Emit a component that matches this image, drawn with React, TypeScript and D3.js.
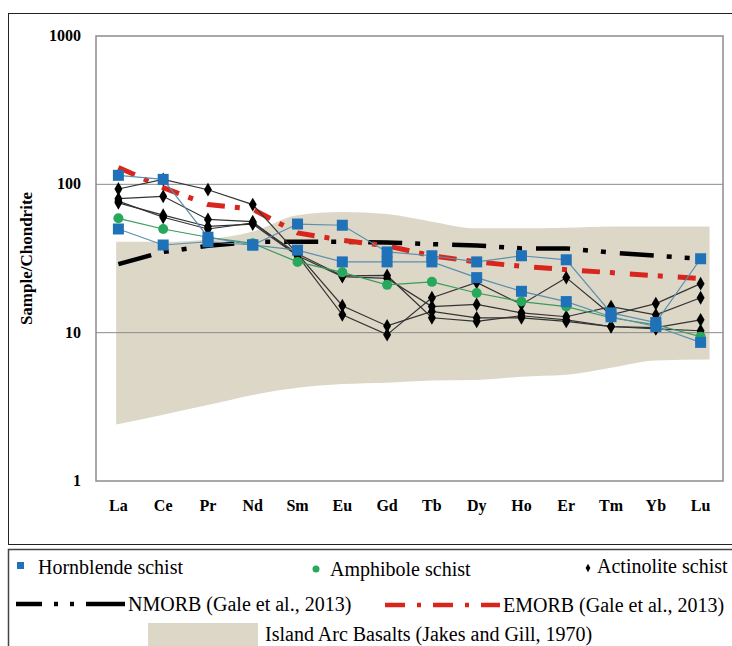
import React, { useEffect, useRef } from "react";
import * as d3 from "d3";

// REE categories and chondrite-normalised values
const elements = ["La", "Ce", "Pr", "Nd", "Sm", "Eu", "Gd", "Tb", "Dy", "Ho", "Er", "Tm", "Yb", "Lu"];
const yTicks = [1, 10, 100, 1000];

const hornblende1 = [115, 108, 44, 39, 54, 53, 35, 33, 30, 33, 31, 13.6, 11.7, 31.5];
const hornblende2 = [50, 39, 41, 39, 36, 30, 30, 30, 23.5, 19, 16.2, 12.8, 11, 8.6];
const hornblende = [hornblende1, hornblende2];

const amphibole1 = [59, 50, 44, 40, 30, 25.5, 21, 22, 18.5, 16.2, 15, 12.6, 11.3, 9.4];
const amphibole = [amphibole1];

const actinolite1 = [93, 108, 92, 73, 34, 15.2, 11.1, 13.9, 12.6, 12.6, 11.9, 11, 10.8, 12.2];
const actinolite2 = [80, 83, 58, 56, 33, 13.2, 9.7, 17.2, 21.8, 15.5, 23.5, 13.2, 15.7, 21.4];
const actinolite3 = [75, 62, 52, 54, 33, 23.9, 23.2, 15, 15.5, 13.6, 12.8, 15, 13.2, 17.2];
const actinolite4 = [77, 60, 50, 55, 34, 24.2, 24.3, 12.6, 11.9, 13, 12.2, 11, 10.6, 10.3];
const actinolite = [actinolite1, actinolite2, actinolite3, actinolite4];

const nmorb = [29, 35, 38.5, 41, 41, 41, 40.5, 39.5, 38.7, 37, 37, 34.7, 33, 31.5];
const emorb = [130, 95, 73, 68, 47, 42, 38.5, 33, 30, 28, 26.6, 25.4, 24.2, 23.2];

const arcUpper = [41, 41, 42.5, 48, 62, 65, 63, 56, 50.5, 50.5, 51, 52, 52, 52];
const arcLower = [2.4, 2.8, 3.25, 3.8, 4.25, 4.5, 4.6, 4.75, 4.8, 5.05, 5.2, 5.8, 6.5, 6.6];

const legendRows = [
  ["Hornblende schist", "Amphibole schist", "Actinolite schist"],
  ["NMORB (Gale et al., 2013)", "EMORB (Gale et al., 2013)"],
  ["Island Arc Basalts (Jakes and Gill, 1970)"],
];

const W = 732;
const H = 646;
const FONT = "'Liberation Serif', 'Times New Roman', serif";
const BLUE = "#1f72b8";
const BLUE_LINE = "#5b8fae";
const GREEN = "#27a85a";
const GREEN_LINE = "#3a9a5e";
const BLACK_LINE = "#333333";
const RED = "#d8261c";
const ARC = "#dcd7c7";

const App: React.FC = () => {
  const svgRef = useRef<SVGSVGElement>(null);

  useEffect(() => {
    document.body.style.margin = "0";
    if (!svgRef.current) return;
    const svg = d3.select(svgRef.current);
    svg.selectAll("*").remove();

    const plot = { left: 96, right: 723, top: 36, bottom: 481 };

    const x = d3.scaleBand<string>()
      .domain(elements)
      .range([plot.left, plot.right])
      .padding(0);
    const cx = (i: number) => (x(elements[i]) ?? 0) + x.bandwidth() / 2;
    const y = d3.scaleLog().domain([1, 1000]).range([plot.bottom, plot.top]);

    // outer frame and legend frame
    svg.append("rect")
      .attr("x", 8.5).attr("y", 13.5)
      .attr("width", W).attr("height", 531)
      .attr("fill", "#fff").attr("stroke", "#222").attr("stroke-width", 1);
    svg.append("rect")
      .attr("x", 8.5).attr("y", 549.5)
      .attr("width", W).attr("height", 120)
      .attr("fill", "#fff").attr("stroke", "#444").attr("stroke-width", 1.5);

    // island arc field
    const step = x.step();
    const bandPts = elements.map((_, i) => ({
      x: cx(i) + (i === 0 ? -step * 0.05 : i === elements.length - 1 ? step * 0.2 : 0),
      hi: arcUpper[i],
      lo: arcLower[i],
    }));
    const area = d3.area<{ x: number; hi: number; lo: number }>()
      .x(d => d.x)
      .y0(d => y(d.lo))
      .y1(d => y(d.hi))
      .curve(d3.curveMonotoneX);
    svg.append("path").datum(bandPts).attr("d", area).attr("fill", ARC);

    // gridlines
    svg.append("g")
      .selectAll("line")
      .data([10, 100])
      .join("line")
      .attr("x1", plot.left).attr("x2", plot.right)
      .attr("y1", d => y(d)).attr("y2", d => y(d))
      .attr("stroke", "#8a8a8a").attr("stroke-width", 1);

    // plot border
    svg.append("rect")
      .attr("x", plot.left).attr("y", plot.top)
      .attr("width", plot.right - plot.left).attr("height", plot.bottom - plot.top)
      .attr("fill", "none").attr("stroke", "#8c8c8c").attr("stroke-width", 1.5);

    const line = d3.line<number>()
      .x((_, i) => cx(i))
      .y(d => y(d));

    // reference lines
    svg.append("path").datum(nmorb).attr("d", line)
      .attr("fill", "none").attr("stroke", "#000").attr("stroke-width", 4.5)
      .attr("stroke-dasharray", "34 13 5 13 5 14");
    svg.append("path").datum(emorb).attr("d", line)
      .attr("fill", "none").attr("stroke", RED).attr("stroke-width", 5)
      .attr("stroke-dasharray", "18 10 5 15");

    const drawSeries = (
      sets: number[][],
      lineColor: string,
      marker: (g: d3.Selection<SVGGElement, unknown, null, undefined>, px: number, py: number) => void
    ) => {
      const g = svg.append("g");
      sets.forEach(vals => {
        g.append("path").datum(vals).attr("d", line)
          .attr("fill", "none").attr("stroke", lineColor).attr("stroke-width", 1.2);
      });
      sets.forEach(vals => {
        vals.forEach((v, i) => marker(g, cx(i), y(v)));
      });
    };

    const diamond = d3.symbol().type(d3.symbolDiamond).size(55);
    drawSeries(actinolite, BLACK_LINE, (g, px, py) => {
      g.append("path").attr("d", diamond).attr("transform", `translate(${px},${py})`).attr("fill", "#000");
    });
    drawSeries(amphibole, GREEN_LINE, (g, px, py) => {
      g.append("circle").attr("cx", px).attr("cy", py).attr("r", 5).attr("fill", GREEN);
    });
    drawSeries(hornblende, BLUE_LINE, (g, px, py) => {
      g.append("rect").attr("x", px - 5.5).attr("y", py - 5.5).attr("width", 11).attr("height", 11).attr("fill", BLUE);
    });

    // y tick labels
    svg.append("g")
      .selectAll("text")
      .data(yTicks)
      .join("text")
      .attr("x", 81).attr("y", d => y(d) + 5)
      .attr("text-anchor", "end")
      .style("font-family", FONT).style("font-size", "16px").style("font-weight", "bold")
      .text(d => String(d));

    // x tick labels
    svg.append("g")
      .selectAll("text")
      .data(elements)
      .join("text")
      .attr("x", (_, i) => cx(i)).attr("y", 511)
      .attr("text-anchor", "middle")
      .style("font-family", FONT).style("font-size", "16px").style("font-weight", "bold")
      .text(d => d);

    svg.append("text")
      .attr("transform", `translate(32,${(plot.top + plot.bottom) / 2}) rotate(-90)`)
      .attr("text-anchor", "middle")
      .style("font-family", FONT).style("font-size", "17px").style("font-weight", "bold")
      .text("Sample/Chondrite");

    // legend
    const lg = svg.append("g").style("font-family", FONT).style("font-size", "20px");
    lg.append("rect").attr("x", 17).attr("y", 562).attr("width", 7).attr("height", 7).attr("fill", BLUE);
    lg.append("text").attr("x", 38).attr("y", 574).text(legendRows[0][0]);
    lg.append("circle").attr("cx", 316).attr("cy", 569).attr("r", 3.5).attr("fill", GREEN);
    lg.append("text").attr("x", 330).attr("y", 576).text(legendRows[0][1]);
    lg.append("path").attr("d", d3.symbol().type(d3.symbolDiamond).size(20))
      .attr("transform", "translate(588,568)").attr("fill", "#000");
    lg.append("text").attr("x", 597).attr("y", 573).text(legendRows[0][2]);

    lg.append("line").attr("x1", 16).attr("x2", 125).attr("y1", 604).attr("y2", 604)
      .attr("stroke", "#000").attr("stroke-width", 4.5).attr("stroke-dasharray", "26 12 4 12 4 12 40");
    lg.append("text").attr("x", 128).attr("y", 611).text(legendRows[1][0]);
    lg.append("line").attr("x1", 385).attr("x2", 500).attr("y1", 605).attr("y2", 605)
      .attr("stroke", RED).attr("stroke-width", 4.5).attr("stroke-dasharray", "20 12 4 12 20 12 4 12 20");
    lg.append("text").attr("x", 503).attr("y", 612).text(legendRows[1][1]);

    lg.append("rect").attr("x", 148).attr("y", 623).attr("width", 110).attr("height", 30).attr("fill", ARC);
    lg.append("text").attr("x", 265).attr("y", 641).text(legendRows[2][0]);
  }, []);

  return <svg ref={svgRef} width={W} height={H} style={{ display: "block", background: "#fff" }} />;
};

export default App;
